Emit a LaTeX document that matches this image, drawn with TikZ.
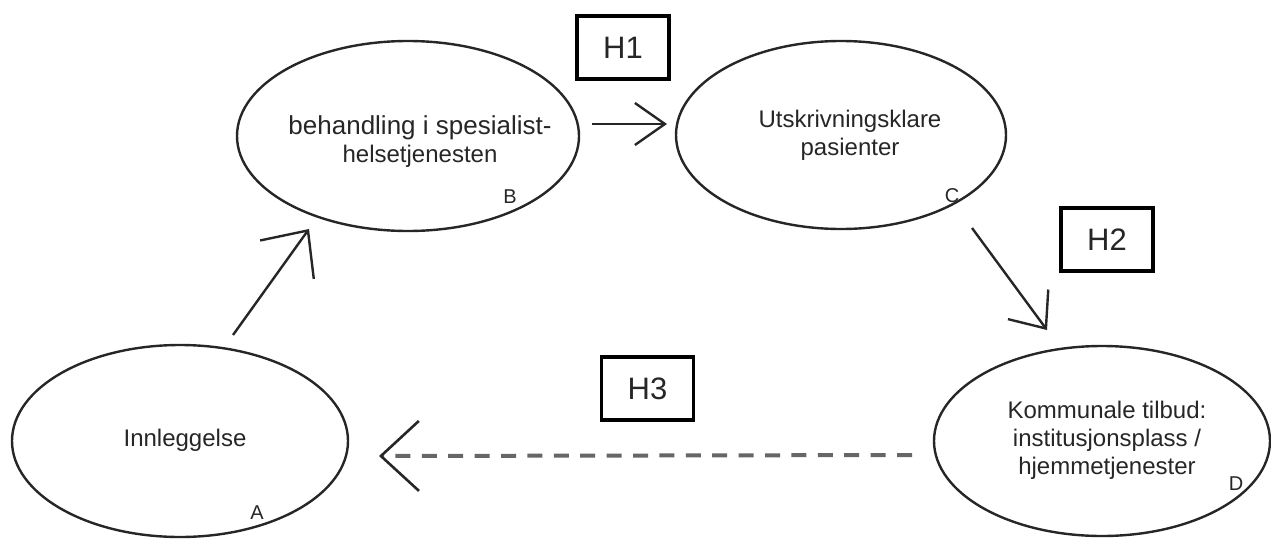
\documentclass[tikz,border=0pt]{standalone}
\usepackage{fontspec}
\setmainfont{Liberation Sans}
\usetikzlibrary{shapes.geometric,arrows.meta}
\tikzset{
  ellnode/.style 2 args={draw=black!85, line width=2.4pt, ellipse, inner sep=0pt,
    minimum width=#1, minimum height=#2},
  txt/.style={font=\fontsize{24}{28}\selectfont, text=black!85, align=center, inner sep=0pt},
  lbl/.style={font=\fontsize{20}{24}\selectfont, text=black!85, inner sep=0pt},
  hbox/.style={draw=black, line width=3.5pt, minimum width=92pt, minimum height=63pt,
    inner sep=0pt, font=\fontsize{31}{36}\selectfont, text=black!85},
  arr/.style={draw=black!85, line width=2.4pt},
  dasharr/.style={draw=black!60, line width=4pt, dash pattern=on 15pt off 11.4pt},
}
\begin{document}
\begin{tikzpicture}[x=1pt,y=-1pt]
\useasboundingbox (0,0) rectangle (1271,538);
% ellipses
\node[ellnode={336pt}{192pt}] (A) at (180,441) {};
\node[ellnode={342pt}{190pt}] (B) at (408,136) {};
\node[ellnode={330pt}{188pt}] (C) at (841,135) {};
\node[ellnode={336pt}{190pt}] (D) at (1102,441) {};
% texts
\node[txt, anchor=base] (At) at (185,446) {Innleggelse};
\node[txt] (Bt) at (420,142) {{\fontsize{26}{28}\selectfont behandling i spesialist-}\\helsetjenesten};
\node[txt] (Ct) at (850,135) {Utskrivningsklare\\pasienter};
\node[txt] (Dt) at (1107,440) {Kommunale tilbud:\\institusjonsplass /\\hjemmetjenester};
% corner labels
\node[lbl] (Al) at (257,513) {A};
\node[lbl] (Bl) at (510,197) {B};
\node[lbl] (Cl) at (952,196) {C};
\node[lbl] (Dl) at (1236,484) {D};
% hypothesis boxes
\node[hbox] (H1) at (623,47.5) {H1};
\node[hbox] (H2) at (1107,239.5) {H2};
\node[hbox] (H3) at (647.5,388.5) {H3};
% arrow end points
\coordinate (ab1) at (233,335);
\coordinate (ab2) at (309,229);
\coordinate (bc1) at (592,124);
\coordinate (bc2) at (667,124);
\coordinate (cd1) at (972,228);
\coordinate (cd2) at (1047,330);
\coordinate (da1) at (912,455);
\coordinate (da2) at (379,456);
% arrows
\draw[arr, -{Straight Barb[length=36pt, width=66pt]}] (ab1) -- (ab2);
\draw[arr, -{Straight Barb[length=30pt, width=42pt]}] (bc1) -- (bc2);
\draw[arr, -{Straight Barb[length=30pt, width=50pt]}] (cd1) -- (cd2);
\draw[dasharr, -{Straight Barb[length=38pt, width=70pt, line width=2.6pt, color=black!85]}] (da1) -- (da2);
\end{tikzpicture}
\end{document}
